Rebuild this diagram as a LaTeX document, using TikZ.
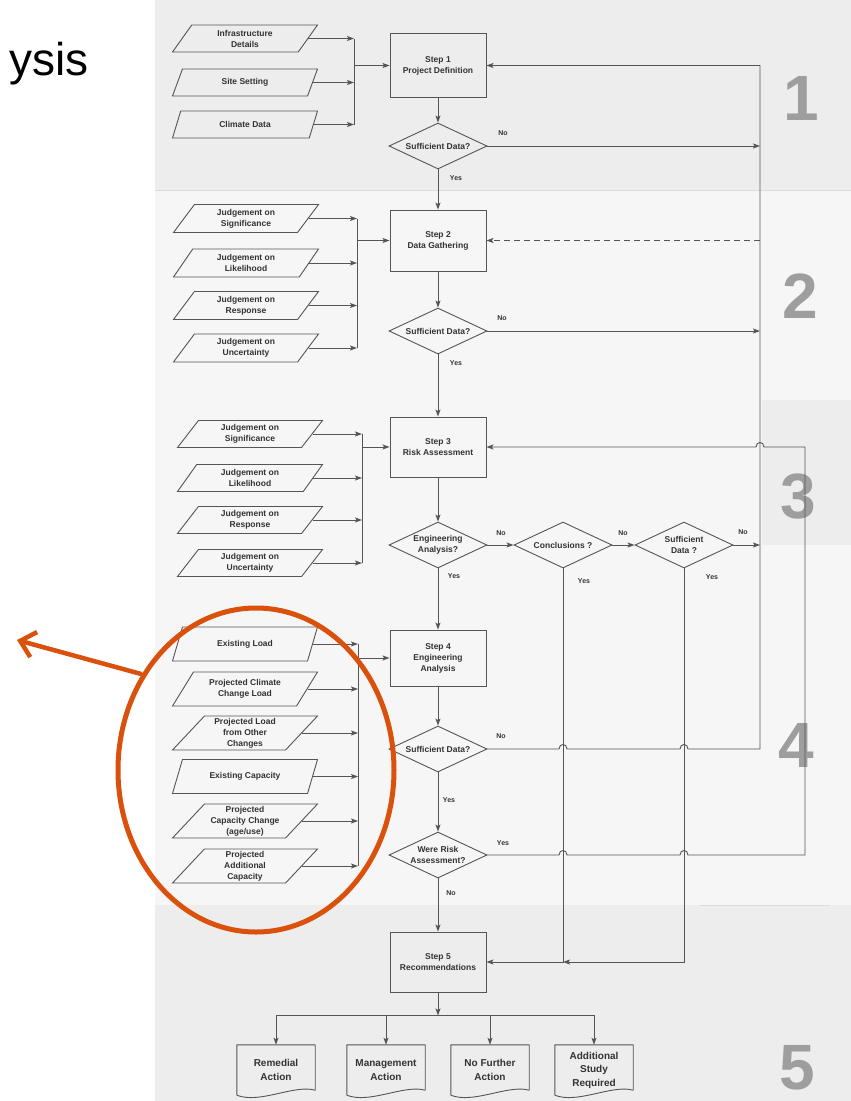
\documentclass[tikz,border=0pt]{standalone}
\usepackage{fontspec}
\setmainfont{Liberation Sans}
\usetikzlibrary{shapes.geometric,arrows.meta,calc}
\definecolor{ink}{HTML}{555555}
\definecolor{txt}{HTML}{333333}
\definecolor{numgray}{HTML}{9E9E9E}
\definecolor{hilite}{HTML}{D9510C}
\definecolor{paper}{HTML}{F6F6F6}
\definecolor{band}{HTML}{EDEDED}
\definecolor{seam}{HTML}{DCDCDC}

\begin{document}
\begin{tikzpicture}[x=1pt,y=-1pt,
  flowfont/.style={font=\bfseries\fontsize{8.5}{11}\selectfont, text=txt},
  flow/.style={draw=ink, line width=0.9pt},
  arr/.style={flow, -{Stealth[length=7pt,width=5pt,inset=1.5pt]}},
  stepbox/.style={flow, flowfont, rectangle, minimum width=96pt, align=center, inner sep=2pt},
  inbox/.style={flow, flowfont, trapezium, trapezium left angle=45, trapezium right angle=135,
    trapezium stretches body, minimum width=145pt, align=center, inner sep=1pt},
  choice/.style={flow, flowfont, diamond, aspect=2.2, minimum width=98pt, minimum height=46pt,
    inner sep=0pt, align=center},
  tag/.style={font=\bfseries\fontsize{7}{8}\selectfont, text=txt},
  bignum/.style={font=\bfseries\fontsize{64}{64}\selectfont, text=numgray, anchor=base, inner sep=0pt},
  docnode/.style={font=\bfseries\fontsize{10}{13.5}\selectfont, text=txt, minimum width=78pt,
    minimum height=50pt, align=center, inner sep=0pt}
]
\useasboundingbox (0,0) rectangle (851,1101);

% page background and its shaded bands
\fill[white] (0,0) rectangle (851,1101);
\fill[paper] (155,0) rectangle (851,1101);
\fill[band] (155,0) rectangle (851,190);
\fill[band] (762,400) rectangle (851,545);
\fill[band] (155,905) rectangle (851,1101);
\draw[seam, line width=0.8pt] (155,190) -- (851,190);
\draw[seam, line width=0.8pt] (700,905) -- (830,905);

% heading fragment
\node[font=\fontsize{46}{46}\selectfont, text=black, anchor=base east, inner sep=0pt] (title) at (89,75) {ysis};

% section numbers
\node[bignum] (z1) at (801,120) {1};
\node[bignum] (z2) at (800,318) {2};
\node[bignum] (z3) at (798,518) {3};
\node[bignum] (z4) at (796,767) {4};
\node[bignum] (z5) at (797,1089) {5};

% main column
\node[stepbox, minimum height=64pt] (s1) at (438,65.5) {Step 1\\Project Definition};
\node[choice] (d1) at (438,146) {Sufficient Data?};
\node[stepbox, minimum height=61pt] (s2) at (438,240.5) {Step 2\\Data Gathering};
\node[choice] (d2) at (438,331) {Sufficient Data?};
\node[stepbox, minimum height=60pt] (s3) at (438,447) {Step 3\\Risk Assessment};
\node[choice] (d3) at (438,545) {Engineering\\Analysis?};
\node[choice] (d3b) at (563,545) {Conclusions ?};
\node[choice] (d3c) at (684,545) {Sufficient\\Data ?};
\node[stepbox, minimum height=56pt] (s4) at (438,658) {Step 4\\Engineering\\Analysis};
\node[choice] (d4) at (438,749) {Sufficient Data?};
\node[choice] (d5) at (438,855) {Were Risk\\Assessment?};
\node[stepbox, minimum height=60pt] (s5) at (438,962) {Step 5\\Recommendations};

% outcomes
\node[docnode] (r1) at (276,1070) {Remedial\\Action};
\node[docnode] (r2) at (386,1070) {Management\\Action};
\node[docnode] (r3) at (490,1070) {No Further\\Action};
\node[docnode] (r4) at (594,1070) {Additional\\Study\\Required};
\foreach \r in {r1,r2,r3,r4}{
  \draw[flow, line join=round] (\r.south west) -- (\r.north west) -- (\r.north east)
    -- ($(\r.south east)+(0,-5)$)
    .. controls ($(\r.south)+(18,-11)$) and ($(\r.south)+(-16,9)$) .. (\r.south west);
}

% inputs, step 1
\node[inbox, minimum height=27pt] (i1) at (245,38.5) {Infrastructure\\Details};
\node[inbox, minimum height=27pt] (i2) at (245,82.5) {Site Setting};
\node[inbox, minimum height=27pt] (i3) at (245,124.5) {Climate Data};
% inputs, step 2
\node[inbox, minimum height=28pt] (j1) at (246,218.5) {Judgement on\\Significance};
\node[inbox, minimum height=28pt] (j2) at (246,263) {Judgement on\\Likelihood};
\node[inbox, minimum height=28pt] (j3) at (246,305.5) {Judgement on\\Response};
\node[inbox, minimum height=28pt] (j4) at (246,348) {Judgement on\\Uncertainty};
% inputs, step 3
\node[inbox, minimum height=27pt] (k1) at (250,434) {Judgement on\\Significance};
\node[inbox, minimum height=27pt] (k2) at (250,478) {Judgement on\\Likelihood};
\node[inbox, minimum height=27pt] (k3) at (250,520) {Judgement on\\Response};
\node[inbox, minimum height=27pt] (k4) at (250,563) {Judgement on\\Uncertainty};
% inputs, step 4
\node[inbox, minimum height=34pt] (m1) at (245,644) {Existing Load};
\node[inbox, minimum height=34pt] (m2) at (245,689) {Projected Climate\\Change Load};
\node[inbox, minimum height=34pt] (m3) at (245,733) {Projected Load\\from Other\\Changes};
\node[inbox, minimum height=34pt] (m4) at (245,776.5) {Existing Capacity};
\node[inbox, minimum height=34pt] (m5) at (245,821) {Projected\\Capacity Change\\(age/use)};
\node[inbox, minimum height=34pt] (m6) at (245,866) {Projected\\Additional\\Capacity};

% collector buses
\coordinate (b1) at (354,0);
\coordinate (b2) at (357,0);
\coordinate (b3) at (362,0);
\coordinate (b4) at (358,0);
\foreach \n in {i1,i2,i3} \draw[arr] (\n.right side) -- (\n.right side -| b1);
\foreach \n in {j1,j2,j3,j4} \draw[arr] (\n.right side) -- (\n.right side -| b2);
\foreach \n in {k1,k2,k3,k4} \draw[arr] (\n.right side) -- (\n.right side -| b3);
\foreach \n in {m1,m2,m3,m4,m5,m6} \draw[arr] (\n.right side) -- (\n.right side -| b4);
\draw[flow] (i1.right side -| b1) -- (i3.right side -| b1);
\draw[flow] (j1.right side -| b2) -- (j4.right side -| b2);
\draw[flow] (k1.right side -| b3) -- (k4.right side -| b3);
\draw[flow] (m1.right side -| b4) -- (m6.right side -| b4);
\draw[arr] (s1.west -| b1) -- (s1.west);
\draw[arr] (s2.west -| b2) -- (s2.west);
\draw[arr] (s3.west -| b3) -- (s3.west);
\draw[arr] (s4.west -| b4) -- (s4.west);

% main sequence
\draw[arr] (s1) -- (d1);
\draw[arr] (d1) -- (s2);
\draw[arr] (s2) -- (d2);
\draw[arr] (d2) -- (s3);
\draw[arr] (s3) -- (d3);
\draw[arr] (d3) -- (s4);
\draw[arr] (s4) -- (d4);
\draw[arr] (d4) -- (d5);
\draw[arr] (d5) -- (s5);
\draw[arr] (d3) -- (d3b);
\draw[arr] (d3b) -- (d3c);

% return lines
\coordinate (f1) at (760,0);
\coordinate (f2) at (805,0);
\draw[arr] (d1.east) -- (d1.east -| f1);
\draw[arr] (d2.east) -- (d2.east -| f1);
\draw[arr] (d3c.east) -- (d3c.east -| f1);
\draw[arr, dashed, dash pattern=on 6pt off 4pt] (s2.east -| f1) -- (s2.east);

\draw[arr] (d4.east)
  -- ($(d4.east -| d3b.south)+(-4,0)$)
  .. controls ($(d4.east -| d3b.south)+(-4,-6)$) and ($(d4.east -| d3b.south)+(4,-6)$) .. ($(d4.east -| d3b.south)+(4,0)$)
  -- ($(d4.east -| d3c.south)+(-4,0)$)
  .. controls ($(d4.east -| d3c.south)+(-4,-6)$) and ($(d4.east -| d3c.south)+(4,-6)$) .. ($(d4.east -| d3c.south)+(4,0)$)
  -- (d4.east -| f1) -- (s1.east -| f1) -- (s1.east);

\draw[arr] (d5.east)
  -- ($(d5.east -| d3b.south)+(-4,0)$)
  .. controls ($(d5.east -| d3b.south)+(-4,-6)$) and ($(d5.east -| d3b.south)+(4,-6)$) .. ($(d5.east -| d3b.south)+(4,0)$)
  -- ($(d5.east -| d3c.south)+(-4,0)$)
  .. controls ($(d5.east -| d3c.south)+(-4,-6)$) and ($(d5.east -| d3c.south)+(4,-6)$) .. ($(d5.east -| d3c.south)+(4,0)$)
  -- (d5.east -| f2) -- (s3.east -| f2)
  -- ($(s3.east -| f1)+(4,0)$)
  .. controls ($(s3.east -| f1)+(4,-6)$) and ($(s3.east -| f1)+(-4,-6)$) .. ($(s3.east -| f1)+(-4,0)$)
  -- (s3.east);

% conclusions to recommendations
\draw[arr] (d3b.south) -- (d3b.south |- s5.east) -- (s5.east);
\draw[arr] (d3c.south) -- (d3c.south |- s5.east) -- (d3b.south |- s5.east);

% recommendations fan-out
\coordinate (fork) at ($(s5.south)+(0,23)$);
\draw[arr] (s5.south) -- (fork);
\draw[flow] (fork -| r1.north) -- (fork -| r4.north);
\foreach \r in {r1,r2,r3,r4} \draw[arr] (fork -| \r.north) -- (\r.north);

% decision labels
\node[tag] (l1n) at (503,133) {No};
\node[tag] (l1y) at (456,178) {Yes};
\node[tag] (l2n) at (502,318) {No};
\node[tag] (l2y) at (456,363) {Yes};
\node[tag] (l3n) at (501,533) {No};
\node[tag] (l3y) at (454,576) {Yes};
\node[tag] (l4n) at (623,533) {No};
\node[tag] (l4y) at (584,581) {Yes};
\node[tag] (l5n) at (743,532) {No};
\node[tag] (l5y) at (712,577) {Yes};
\node[tag] (l6n) at (501,736) {No};
\node[tag] (l6y) at (449,800) {Yes};
\node[tag] (l7y) at (503,843) {Yes};
\node[tag] (l7n) at (451,893) {No};

% highlight
\node[draw=hilite, line width=5pt, ellipse, minimum width=276pt, minimum height=324pt, inner sep=0pt] (focus) at (256,770) {};
\coordinate (point) at (17,640);
\draw[hilite, line width=4.5pt, -{Straight Barb[length=14pt,width=26pt]}] (focus.140) -- (point);
\end{tikzpicture}
\end{document}
